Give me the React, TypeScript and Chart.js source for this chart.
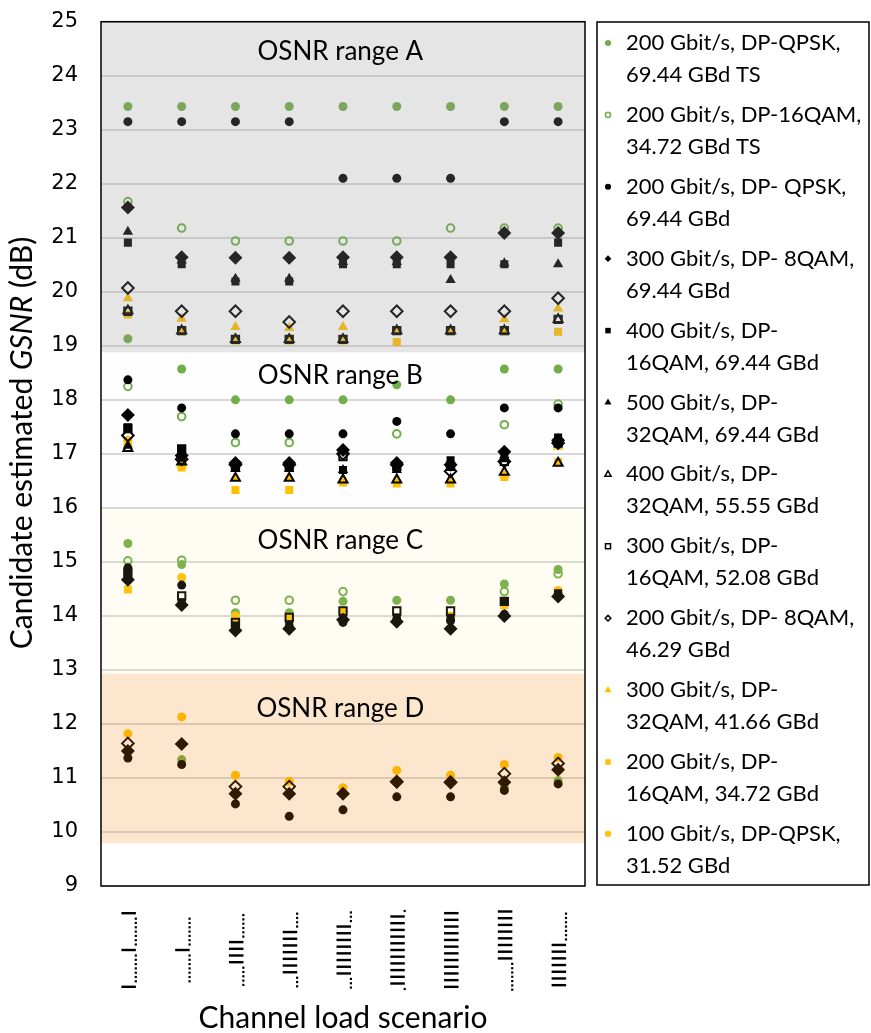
import React, { useEffect, useRef } from 'react';
import { Chart, registerables } from 'chart.js';

Chart.register(...registerables);

// ---------- data ----------
const scenarioCount = 9;
// channel-load icons (top to bottom): '|' = loaded channel, '.' = empty slot
const scenarioPatterns = [
  '|.......|.......|',
  '.......|.......',
  '......||||.....',
  '....|||||||...',
  '...||||||||...',
  '.|||||||||||.',
  '||||||||||||',
  '||||||||.......',
  '.......|||||||',
];

const rangeNames = ['OSNR range A', 'OSNR range B', 'OSNR range C', 'OSNR range D'];
const rangeTops = [25, 18.88, 15.97, 12.93];
const rangeBottoms = [18.88, 15.97, 12.93, 9.79];
const rangeLabelValues = [24.44, 18.45, 15.4, 12.29];

const yTickMin = 9;
const yTickMax = 25;

// each series: rows = OSNR range A, B, C, D; columns = 9 channel-load scenarios
const qpsk200TS = [
  [23.43, 23.43, 23.43, 23.43, 23.43, 23.43, 23.43, 23.43, 23.43],
  [19.13, 18.57, 18.0, 18.0, 18.0, 18.28, 18.0, 18.57, 18.57],
  [15.34, 14.95, 14.06, 14.06, 14.27, 14.29, 14.29, 14.59, 14.86],
  [11.5, 11.34, null, null, null, null, null, 10.82, 10.95],
];
const qam16_200TS = [
  [21.67, 21.18, 20.94, 20.94, 20.94, 20.94, 21.18, 21.18, 21.18],
  [18.25, 17.69, 17.21, 17.21, null, 17.37, null, 17.54, 17.92],
  [15.02, 15.03, 14.29, 14.29, 14.45, null, null, 14.45, 14.78],
  [null, null, null, null, null, null, null, null, null],
];
const qpsk200 = [
  [23.15, 23.15, 23.15, 23.15, 22.1, 22.1, 22.1, 23.15, 23.15],
  [18.37, 17.85, 17.37, 17.37, 17.37, 17.6, 17.37, 17.85, 17.85],
  [14.89, 14.57, 13.78, 13.8, 13.88, 13.93, 13.91, 14.03, 14.4],
  [11.37, 11.25, 10.52, 10.29, 10.41, 10.65, 10.65, 10.77, 10.89],
];
const qam8_300 = [
  [21.56, 20.64, 20.63, 20.63, 20.64, 20.64, 20.64, 21.09, 21.09],
  [17.72, 16.97, 16.83, 16.83, 17.07, 16.83, 16.8, 17.04, 17.25],
  [14.67, 14.2, 13.73, 13.76, 13.93, 13.89, 13.76, 14.0, 14.36],
  [11.5, 11.63, 10.71, 10.71, 10.71, 10.93, 10.92, 10.92, 11.15],
];
const qam16_400 = [
  [20.91, 20.51, 20.19, 20.19, 20.51, 20.51, 20.51, 20.51, 20.91],
  [17.49, 17.07, 16.77, 16.77, 16.7, 16.74, 16.88, 16.93, 17.3],
  [14.8, 14.25, 13.82, 13.84, 13.95, 13.97, 13.96, 14.27, 14.42],
  [null, null, null, null, null, null, null, null, null],
];
const qam32_500 = [
  [21.11, 20.58, 20.24, 20.24, 20.55, 20.55, 20.22, 20.53, 20.51],
  [17.15, 16.92, 16.72, 16.72, 16.7, 16.7, 16.75, 16.9, 17.2],
  [null, null, null, null, null, null, null, null, null],
  [null, null, null, null, null, null, null, null, null],
];
const qam32_400 = [
  [19.65, 19.28, 19.12, 19.12, 19.12, 19.28, 19.28, 19.28, 19.49],
  [17.1, 16.85, 16.55, 16.55, 16.52, 16.52, 16.52, 16.66, 16.83],
  [null, null, null, null, null, null, null, null, null],
  [null, null, null, null, null, null, null, null, null],
];
const qam16_300 = [
  [19.64, 19.28, 19.12, 19.12, 19.12, 19.28, 19.28, 19.28, 19.49],
  [17.47, 17.09, 16.75, 16.75, 16.95, 16.77, 16.77, 16.86, 17.2],
  [14.8, 14.37, 13.88, 13.97, 14.09, 14.09, 14.09, 14.27, null],
  [null, null, null, null, null, null, null, null, null],
];
const qam8_200 = [
  [20.07, 19.64, 19.64, 19.44, 19.64, 19.64, 19.64, 19.64, 19.88],
  [17.34, 16.9, 16.8, 16.8, 17.0, 16.8, 16.68, 16.86, 17.2],
  [null, null, null, null, null, null, null, null, null],
  [11.64, null, 10.84, 10.84, null, 10.93, 10.92, 11.08, 11.27],
];
const qam32_300 = [
  [19.88, 19.5, 19.35, 19.33, 19.35, 19.3, 19.3, 19.49, 19.69],
  [17.2, 16.8, 16.57, 16.57, 16.5, 16.52, 16.52, 16.62, 17.13],
  [null, null, null, null, null, null, null, null, null],
  [null, null, null, null, null, null, null, null, null],
];
const qam16_200 = [
  [19.58, 19.27, 19.1, 19.1, 19.1, 19.07, 19.27, 19.27, 19.26],
  [17.22, 16.75, 16.33, 16.33, 16.47, 16.45, 16.45, 16.57, 16.85],
  [14.49, 14.22, 13.88, 13.97, 14.09, null, 13.98, 14.2, null],
  [null, null, null, null, null, null, null, null, null],
];
const qpsk100 = [
  [null, null, null, null, null, null, null, null, null],
  [17.25, 16.78, null, null, null, null, null, null, null],
  [null, 14.71, 14.0, null, null, null, 14.0, null, 14.47],
  [11.82, 12.13, 11.05, 10.94, 10.82, 11.14, 11.05, 11.25, 11.38],
];

const seriesLabels = [
  ['200 Gbit/s, DP-QPSK,', '69.44 GBd TS'],
  ['200 Gbit/s, DP-16QAM,', '34.72 GBd TS'],
  ['200 Gbit/s, DP- QPSK,', '69.44 GBd'],
  ['300 Gbit/s, DP- 8QAM,', '69.44 GBd'],
  ['400 Gbit/s, DP-', '16QAM, 69.44 GBd'],
  ['500 Gbit/s, DP-', '32QAM, 69.44 GBd'],
  ['400 Gbit/s, DP-', '32QAM, 55.55 GBd'],
  ['300 Gbit/s, DP-', '16QAM, 52.08 GBd'],
  ['200 Gbit/s, DP- 8QAM,', '46.29 GBd'],
  ['300 Gbit/s, DP-', '32QAM, 41.66 GBd'],
  ['200 Gbit/s, DP-', '16QAM, 34.72 GBd'],
  ['100 Gbit/s, DP-QPSK,', '31.52 GBd'],
];
const seriesValues = [
  qpsk200TS, qam16_200TS, qpsk200, qam8_300, qam16_400, qam32_500,
  qam32_400, qam16_300, qam8_200, qam32_300, qam16_200, qpsk100,
];

// ---------- styles ----------
const GREEN = '#70ad47';
const BLACK = '#000000';
const YELLOW = '#ffc000';
type Sty = { shape: string; r: number; color: string; hollow: boolean; z: number };
const seriesStyles: Sty[] = [
  { shape: 'circle', r: 4.5, color: GREEN, hollow: false, z: 12 },
  { shape: 'circle', r: 3.8, color: GREEN, hollow: true, z: 11 },
  { shape: 'circle', r: 4.5, color: BLACK, hollow: false, z: 7 },
  { shape: 'rectRot', r: 7, color: BLACK, hollow: false, z: 6 },
  { shape: 'rect', r: 5.7, color: BLACK, hollow: false, z: 5 },
  { shape: 'triangle', r: 6, color: BLACK, hollow: false, z: 4 },
  { shape: 'triangle', r: 5.2, color: BLACK, hollow: true, z: 3 },
  { shape: 'rect', r: 5.2, color: BLACK, hollow: true, z: 2 },
  { shape: 'rectRot', r: 5.8, color: BLACK, hollow: true, z: 1 },
  { shape: 'triangle', r: 6, color: YELLOW, hollow: false, z: 8 },
  { shape: 'rect', r: 5.7, color: YELLOW, hollow: false, z: 9 },
  { shape: 'circle', r: 4.5, color: YELLOW, hollow: false, z: 10 },
];

const bandColors = [
  'rgba(150,150,150,0.25)',
  'rgba(200,200,200,0.02)',
  'rgba(255,225,150,0.1)',
  'rgba(240,130,5,0.2)',
];

function drawMarker(ctx: CanvasRenderingContext2D, st: Sty, x: number, y: number, r: number, lw: number) {
  ctx.beginPath();
  if (st.shape === 'circle') {
    ctx.arc(x, y, r, 0, Math.PI * 2);
  } else if (st.shape === 'rect') {
    const s = Math.SQRT1_2 * r;
    ctx.rect(x - s, y - s, 2 * s, 2 * s);
  } else if (st.shape === 'rectRot') {
    const s = Math.SQRT1_2 * r;
    ctx.moveTo(x - s, y);
    ctx.lineTo(x, y + s);
    ctx.lineTo(x + s, y);
    ctx.lineTo(x, y - s);
  } else if (st.shape === 'triangle') {
    let a = 0;
    ctx.moveTo(x + Math.sin(a) * r, y - Math.cos(a) * r);
    a += (2 * Math.PI) / 3;
    ctx.lineTo(x + Math.sin(a) * r, y - Math.cos(a) * r);
    a += (2 * Math.PI) / 3;
    ctx.lineTo(x + Math.sin(a) * r, y - Math.cos(a) * r);
  }
  ctx.closePath();
  if (st.hollow) {
    ctx.strokeStyle = st.color;
    ctx.lineWidth = lw;
    ctx.stroke();
  } else {
    ctx.fillStyle = st.color;
    ctx.fill();
  }
}

const overlayPlugin = {
  id: 'osnrBands',
  afterDatasetsDraw(chart: any) {
    const { ctx, chartArea: ca, scales } = chart;
    const y = scales.y;
    const x = scales.x;
    ctx.save();
    for (let i = 0; i < rangeNames.length; i++) {
      const t = y.getPixelForValue(rangeTops[i]);
      const b = y.getPixelForValue(rangeBottoms[i]);
      ctx.fillStyle = bandColors[i];
      ctx.fillRect(ca.left, t, ca.right - ca.left, b - t);
    }
    ctx.fillStyle = '#000';
    ctx.font = '26px Lato';
    ctx.textAlign = 'center';
    ctx.textBaseline = 'middle';
    for (let i = 0; i < rangeNames.length; i++) {
      ctx.fillText(rangeNames[i], x.getPixelForValue(3.95), y.getPixelForValue(rangeLabelValues[i]));
    }
    ctx.strokeStyle = '#000';
    ctx.lineWidth = 1.5;
    ctx.strokeRect(ca.left, ca.top, ca.right - ca.left, ca.bottom - ca.top);
    ctx.restore();
  },
};

const decorPlugin = {
  id: 'decor',
  afterDraw(chart: any) {
    const { ctx, chartArea: ca, scales } = chart;
    const x = scales.x;
    ctx.save();

    // channel-load icons
    const dashAdv = 6.7;
    const dotAdv = 4.3;
    const iconCenterY = 950;
    ctx.fillStyle = '#000';
    scenarioPatterns.forEach((p, i) => {
      const cx = x.getPixelForValue(i);
      let total = 0;
      for (const c of p) total += c === '|' ? dashAdv : dotAdv;
      let yy = iconCenterY - total / 2;
      for (const c of p) {
        const adv = c === '|' ? dashAdv : dotAdv;
        const yc = yy + adv / 2;
        if (c === '|') ctx.fillRect(cx - 6.5, yc - 1.2, 14.5, 2.4);
        else ctx.fillRect(cx + 6.8, yc - 1.1, 2.2, 2.2);
        yy += adv;
      }
    });

    // x-axis title
    ctx.font = '30px Lato';
    ctx.textAlign = 'center';
    ctx.textBaseline = 'alphabetic';
    ctx.fillText('Channel load scenario', (ca.left + ca.right) / 2, 1028);

    // y-axis title with italic GSNR
    const parts = [
      { t: 'Candidate estimated ', f: '30px Lato' },
      { t: 'GSNR', f: 'italic 30px Lato' },
      { t: ' (dB)', f: '30px Lato' },
    ];
    let tw = 0;
    const ws = parts.map((p) => {
      ctx.font = p.f;
      const w = ctx.measureText(p.t).width;
      tw += w;
      return w;
    });
    ctx.translate(22, 443);
    ctx.rotate(-Math.PI / 2);
    ctx.textAlign = 'left';
    ctx.textBaseline = 'middle';
    let px = -tw / 2;
    parts.forEach((p, i) => {
      ctx.font = p.f;
      ctx.fillText(p.t, px, 0);
      px += ws[i];
    });
    ctx.setTransform(1, 0, 0, 1, 0, 0);

    // legend
    const lx = 597;
    const ly = 22;
    const lw = 272;
    const lh = 863;
    ctx.strokeStyle = '#000';
    ctx.lineWidth = 1.5;
    ctx.strokeRect(lx, ly, lw, lh);
    ctx.font = '22px Lato';
    ctx.textAlign = 'left';
    ctx.textBaseline = 'middle';
    seriesLabels.forEach((lines, i) => {
      const y0 = 43 + i * 71.9;
      const st = seriesStyles[i];
      drawMarker(ctx, st, 608, y0, st.r * 0.68, 1.5);
      ctx.fillStyle = '#000';
      ctx.fillText(lines[0], 626, y0);
      ctx.fillText(lines[1], 626, y0 + 32);
    });
    ctx.restore();
  },
};

export default function App() {
  const ref = useRef<HTMLCanvasElement>(null);
  useEffect(() => {
    document.body.style.margin = '0';
    const canvas = ref.current!;
    const datasets = seriesValues.map((rows, si) => {
      const pts: { x: number; y: number }[] = [];
      rows.forEach((row) => {
        row.forEach((v, i) => {
          if (v !== null && i < scenarioCount) pts.push({ x: i, y: v as number });
        });
      });
      const st = seriesStyles[si];
      return {
        label: seriesLabels[si].join(' '),
        data: pts,
        order: st.z,
        pointStyle: st.shape,
        pointRadius: st.r,
        pointHoverRadius: st.r,
        pointBackgroundColor: st.hollow ? 'rgba(0,0,0,0)' : st.color,
        pointBorderColor: st.color,
        pointBorderWidth: st.hollow ? 2 : 0,
        showLine: false,
      };
    });
    const chart = new Chart(canvas, {
      type: 'scatter',
      data: { datasets } as any,
      options: {
        animation: false,
        responsive: false,
        devicePixelRatio: 1,
        events: [],
        layout: { padding: { left: 0, top: 21.7, right: 286, bottom: 147 } },
        plugins: { legend: { display: false }, tooltip: { enabled: false } },
        scales: {
          x: { type: 'linear', display: false, min: -0.5, max: scenarioCount - 0.5 },
          y: {
            min: yTickMin,
            max: yTickMax,
            afterFit: (s: any) => {
              s.width = 101;
              s.paddingTop = 0;
              s.paddingBottom = 0;
            },
            ticks: {
              stepSize: 1,
              padding: 23,
              color: '#000',
              font: { family: 'DejaVu Sans', size: 21 },
            },
            grid: { color: '#d9d9d9', lineWidth: 2, drawTicks: false },
            border: { display: false },
          },
        },
      } as any,
      plugins: [overlayPlugin, decorPlugin],
    });
    return () => chart.destroy();
  }, []);
  return <canvas ref={ref} width={871} height={1033} style={{ display: 'block' }} />;
}
